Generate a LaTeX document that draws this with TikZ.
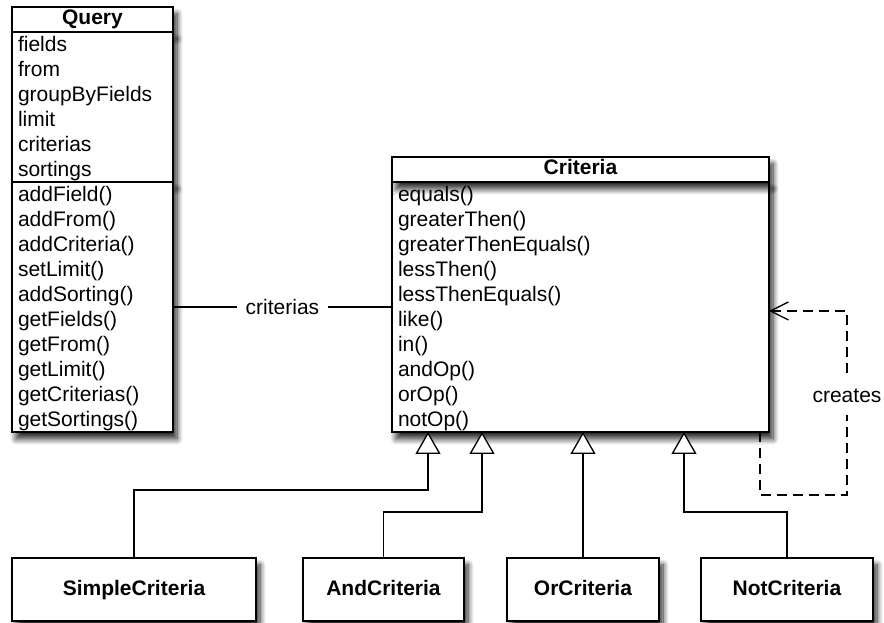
\documentclass[tikz,border=0pt]{standalone}
\usepackage{fontspec}
\setmainfont{Liberation Sans}
\usepackage{tikz}
\usetikzlibrary{positioning}
\usetikzlibrary{arrows.meta}
\usetikzlibrary{shadows.blur}

\begin{document}
\begin{tikzpicture}[%
    x=1pt, y=1pt,
    line width=1.3pt,
    classshadow/.style={blur shadow={shadow xshift=4pt, shadow yshift=-7pt, shadow blur radius=6pt, shadow blur steps=10, shadow opacity=85}},
classhead/.style={rectangle, draw, fill=white, classshadow, outer sep=0pt, inner sep=0pt, minimum height=25pt, text height=16pt, text depth=5pt, minimum width=#1, font=\bfseries\fontsize{21}{25}\selectfont},
classbody/.style={rectangle, draw, fill=white, classshadow, outer sep=0pt, inner xsep=6pt, inner ysep=0pt, text width=#1, align=left, font=\fontsize{21}{25}\selectfont, execute at begin node=\rule{0pt}{20pt}, execute at end node=\rule[-5pt]{0pt}{5pt}},
leafclass/.style={rectangle, draw, fill=white, classshadow, outer sep=0pt, inner sep=0pt, minimum height=63pt, text height=17pt, text depth=4pt, minimum width=#1, font=\bfseries\fontsize{21}{25}\selectfont},
isa/.style={draw, -{Triangle[open, length=22pt, width=25pt, fill=white]}},
creates/.style={draw, dash pattern=on 10pt off 6pt, -{Straight Barb[length=18pt, width=18pt]}},
label/.style={fill=white, font=\fontsize{21}{25}\selectfont}
]
\useasboundingbox (0,0) rectangle (884,623);

% Query class
\node[classhead=161pt]  (query)      [anchor=north west] at (12,616) {Query};
\node[classbody=149pt]  (queryattr)  [below=0pt of query] {fields\\from\\groupByFields\\limit\\criterias\\sortings};
\node[classbody=149pt]  (queryops)   [below=0pt of queryattr] {addField()\\addFrom()\\addCriteria()\\setLimit()\\addSorting()\\getFields()\\getFrom()\\getLimit()\\getCriterias()\\getSortings()};

% Criteria class
\node[classbody=365pt]  (criteriaops) [right=219pt of queryops] {equals()\\greaterThen()\\greaterThenEquals()\\lessThen()\\lessThenEquals()\\like()\\in()\\andOp()\\orOp()\\notOp()};
\node[classhead=377pt]  (criteria)    [above=0pt of criteriaops] {Criteria};

% Sub classes
\node[leafclass=244pt]  (simple)     [anchor=south west] at (12,2) {SimpleCriteria};
\node[leafclass=161pt]  (and)        [right=47pt of simple] {AndCriteria};
\node[leafclass=152pt]  (or)         [right=43pt of and] {OrCriteria};
\node[leafclass=172pt]  (not)        [right=42pt of or] {NotCriteria};

% association
\draw (queryops.east) -- node[label, inner xsep=9pt] {criterias} (criteriaops.west);

% inheritance
\coordinate (simplein) at ([xshift=36pt]criteriaops.south west);
\coordinate (andin)    at ([xshift=90pt]criteriaops.south west);
\coordinate (notin)    at ([xshift=292pt]criteriaops.south west);
\draw[isa] (simple.north) -- ++(0,68) -| (simplein);
\draw[isa] (and.north) -- ++(0,46) -| (andin);
\draw[isa] (or.north) -- (or.north |- criteriaops.south);
\draw[isa] (not.north) -- ++(0,46) -| (notin);

% creates
\coordinate (selfout) at ([xshift=-9pt]criteriaops.south east);
\coordinate (selfin)  at ([yshift=-4pt]criteriaops.east);
\draw[creates] (selfout) -- ++(0,-63) -- ++(87,0) -- node[label, pos=0.54, inner ysep=12pt] {creates} ++(0,184) -- (selfin);

\end{tikzpicture}
\end{document}
